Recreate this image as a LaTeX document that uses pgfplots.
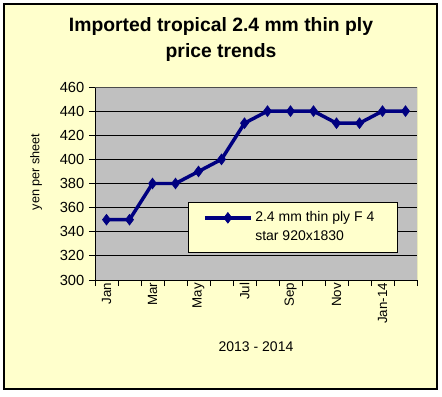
\documentclass[border=0pt]{standalone}
\usepackage{pgfplots}
\pgfplotsset{compat=1.18}
\usepackage{fontspec}
\setmainfont{Liberation Sans}
\definecolor{bgyellow}{HTML}{FFFFCC}
\definecolor{plotgray}{HTML}{C0C0C0}
\definecolor{navy}{HTML}{000080}
\begin{document}
\begin{tikzpicture}
\fill[white] (0pt,0pt) rectangle (331.5pt,-297pt);
\draw[black, line width=0.8pt, fill=bgyellow] (3pt,-3pt) rectangle (327.75pt,-291.75pt);
\node[font=\fontsize{14.5}{16}\selectfont\bfseries] at (165.75pt,-20.25pt) {Imported tropical 2.4 mm thin ply};
\node[font=\fontsize{14.5}{16}\selectfont\bfseries] at (165.75pt,-39.75pt) {price trends};
\begin{axis}[
  at={(71.25pt,-210pt)}, anchor=south west,
  scale only axis, width=241.5pt, height=144.75pt,
  xmin=-0.5, xmax=13.5, ymin=300, ymax=460,
  axis x line*=bottom, axis y line*=left,
  axis line style={black, line width=0.6pt},
  axis background/.style={fill=plotgray},
  ytick={300,320,...,460},
  ymajorgrids, grid style={black, line width=0.6pt},
  xtick={-0.5,0.5,...,13.5}, xticklabels={},
  extra x ticks={0,2,4,6,8,10,12},
  extra x tick labels={Jan,Mar,May,Jul,Sep,Nov,Jan-14},
  extra x tick style={major tick length=0pt, grid=none},
  tick align=outside, major tick length=4.5pt,
  tick style={black, line width=0.6pt},
  xticklabel style={rotate=90, anchor=east, font=\fontsize{10}{11}\selectfont, inner sep=2pt},
  yticklabel style={font=\fontsize{11}{12}\selectfont},
  /pgf/number format/assume math mode=true,
  ylabel={yen per sheet},
  ylabel style={at={(rel axis cs:-0.183,0.56)}, anchor=center, font=\fontsize{9.5}{10}\selectfont},
  xlabel={2013 - 2014},
  xlabel style={at={(rel axis cs:0.5,-0.347)}, anchor=center, font=\fontsize{10.5}{12}\selectfont},
  legend style={at={(0.289,0.404)}, anchor=north west, fill=bgyellow, draw=black, line width=0.6pt,
    font=\fontsize{10.5}{14}\selectfont, inner xsep=11pt, inner ysep=5pt,
    cells={align=left, anchor=west},
    /tikz/every even column/.append style={column sep=0pt}},
  legend image code/.code={
    \draw[mark repeat=2, mark phase=2, #1] plot coordinates {(0pt,7pt) (17.25pt,7pt) (34.5pt,7pt)};
  },
]
\addplot[navy, line width=2.6pt, mark=diamond*, mark size=4pt, mark options={line width=0.5pt}]
  coordinates {(0,350) (1,350) (2,380) (3,380) (4,390) (5,400) (6,430) (7,440) (8,440) (9,440) (10,430) (11,430) (12,440) (13,440)};
\addlegendentry{2.4 mm thin ply F 4\rule{4pt}{0pt}\\star 920x1830}
\draw[gray!60!black, line width=0.6pt] (rel axis cs:0,1) -- (rel axis cs:1,1) -- (rel axis cs:1,0);
\end{axis}
\end{tikzpicture}
\end{document}
